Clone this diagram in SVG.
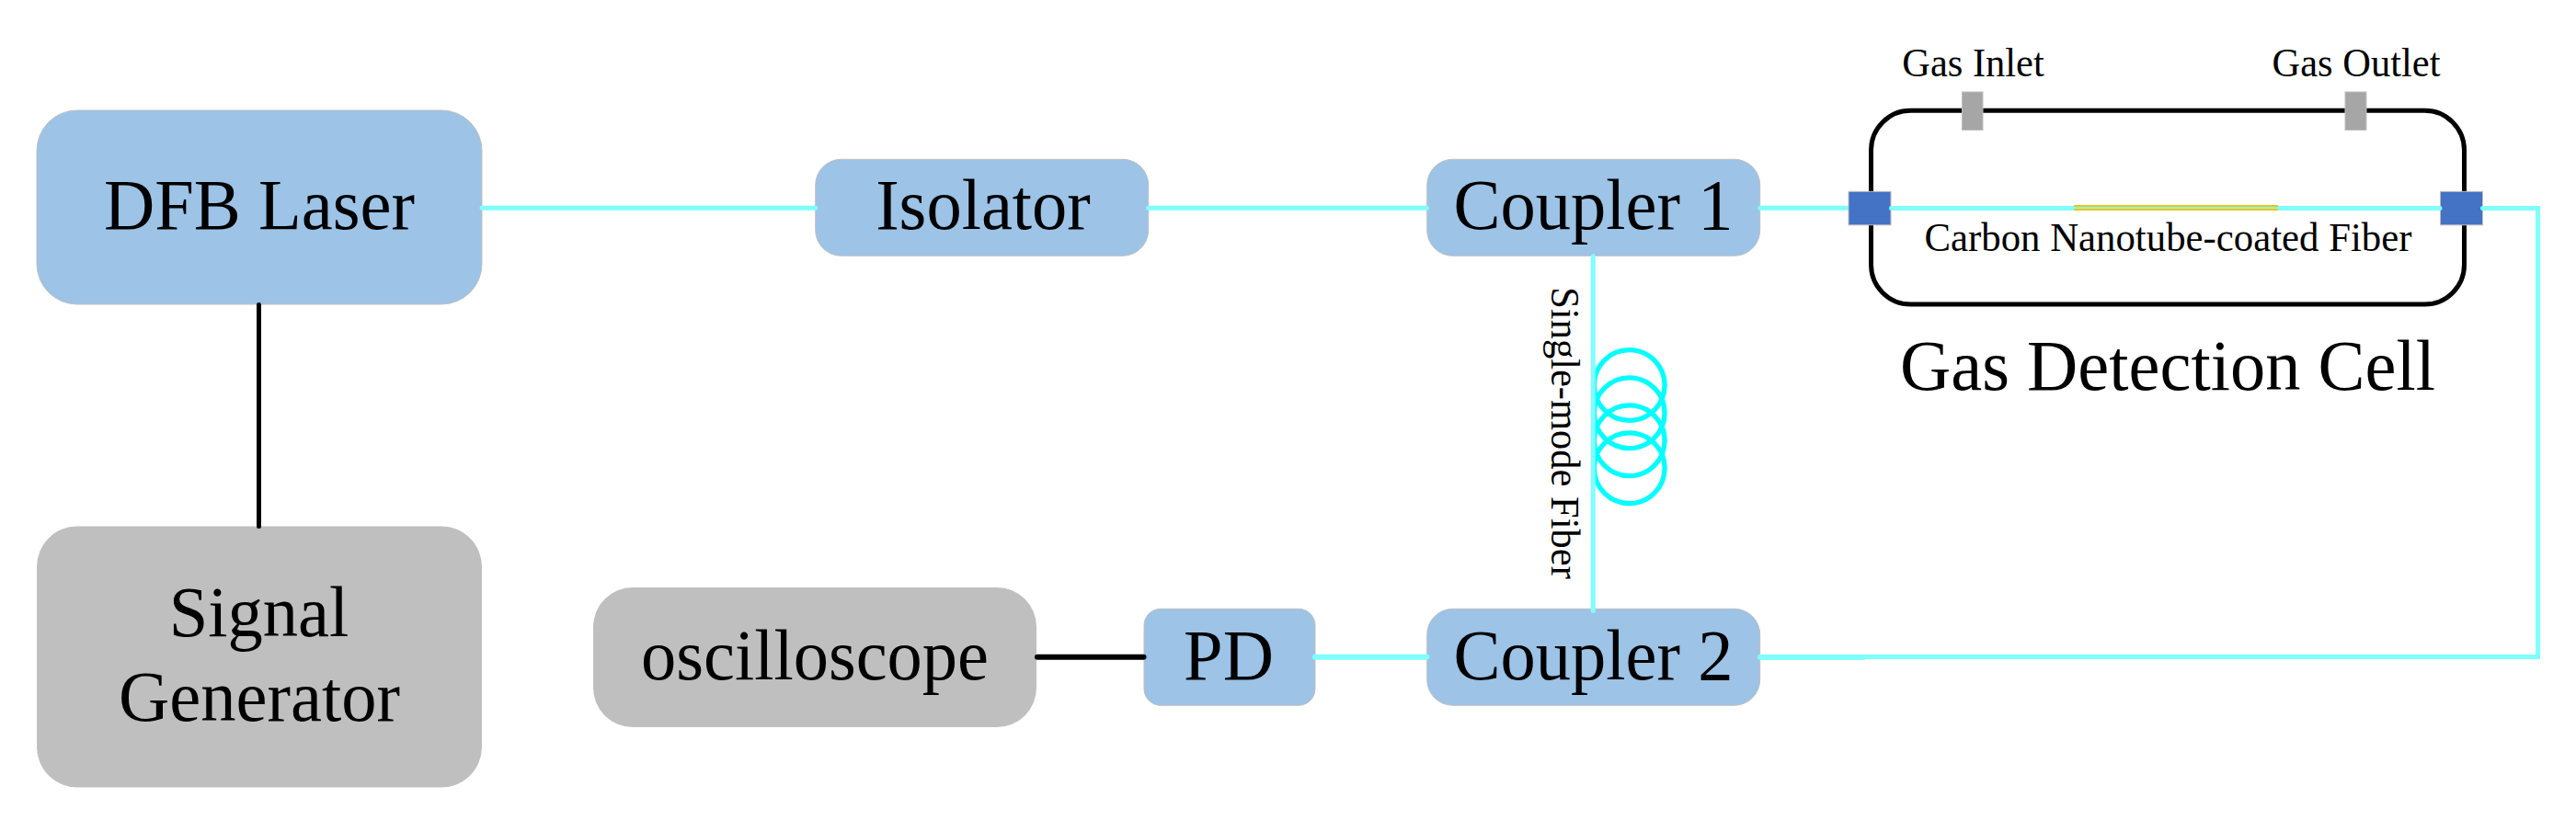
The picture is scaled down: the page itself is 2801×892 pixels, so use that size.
<svg xmlns="http://www.w3.org/2000/svg" width="2801" height="892" viewBox="0 0 2801 892">
<style>
text{font-family:"Liberation Serif","Times New Roman",serif;fill:#000;text-anchor:middle}
.big{font-size:79px}
.small{font-size:44px}
.blue{fill:#9DC3E6;stroke:#BFBFBF;stroke-width:1}
.grey{fill:#BFBFBF}
.port{fill:#A6A6A6;stroke:#BFBFBF;stroke-width:1}
.conn{fill:#4472C4;stroke:#BFBFBF;stroke-width:1}
.fiber{fill:none;stroke:#80FFFF;stroke-width:5;stroke-linecap:round;stroke-linejoin:miter}
.fiber6{stroke-width:6}
.wire{fill:none;stroke:#000;stroke-linecap:round}
.coil{fill:none;stroke:#00FFFF;stroke-width:5.3}
.coat{stroke:#FFC000;stroke-width:2}
</style>
<rect width="2801" height="892" fill="#FFFFFF"/>
<g id="dfb-laser"><rect class="blue" x="40" y="120" width="484" height="211" rx="44" ry="44"/><text class="big" x="282" y="249" textLength="338" lengthAdjust="spacingAndGlyphs">DFB Laser</text></g>
<g id="signal-generator"><rect class="grey" x="40" y="572.5" width="484" height="284" rx="44" ry="44"/><text class="big" x="281.5" y="692" textLength="195.5" lengthAdjust="spacingAndGlyphs">Signal</text><text class="big" x="282" y="784" textLength="306" lengthAdjust="spacingAndGlyphs">Generator</text></g>
<g id="isolator"><rect class="blue" x="886.7" y="173.3" width="362" height="105" rx="28" ry="28"/><text class="big" x="1069" y="249" textLength="233.7" lengthAdjust="spacingAndGlyphs">Isolator</text></g>
<g id="coupler-1"><rect class="blue" x="1551.7" y="173.3" width="362" height="105" rx="28" ry="28"/><text class="big" x="1732.5" y="249" textLength="303.9" lengthAdjust="spacingAndGlyphs">Coupler 1</text></g>
<g id="coupler-2"><rect class="blue" x="1551.7" y="662.3" width="362" height="105" rx="28" ry="28"/><text class="big" x="1732.5" y="739" textLength="303.9" lengthAdjust="spacingAndGlyphs">Coupler 2</text></g>
<g id="pd"><rect class="blue" x="1244" y="662.3" width="186" height="105" rx="18" ry="18"/><text class="big" x="1336" y="739" textLength="97.8" lengthAdjust="spacingAndGlyphs">PD</text></g>
<g id="oscilloscope"><rect class="grey" x="645" y="639" width="482" height="152" rx="43" ry="43"/><text class="big" x="886" y="739" textLength="378" lengthAdjust="spacingAndGlyphs">oscilloscope</text></g>
<g id="gas-cell"><rect x="2034.5" y="120.3" width="645" height="210.7" rx="43" ry="43" fill="none" stroke="#000" stroke-width="5"/>
<rect class="port" x="2133.5" y="100" width="22.5" height="41.5"/><rect class="port" x="2550" y="100" width="23" height="41.5"/>
<text class="small" x="2145.5" y="82.5" textLength="154.6" lengthAdjust="spacingAndGlyphs">Gas Inlet</text><text class="small" x="2562" y="82.5" textLength="183" lengthAdjust="spacingAndGlyphs">Gas Outlet</text>
<text class="small" x="2357.5" y="273" textLength="530" lengthAdjust="spacingAndGlyphs">Carbon Nanotube-coated Fiber</text>
<text x="2357" y="424" font-size="79" textLength="582" lengthAdjust="spacingAndGlyphs">Gas Detection Cell</text></g>
<g id="single-mode-fiber"><circle class="coil" cx="1771.7" cy="419" r="38.4"/><circle class="coil" cx="1771.7" cy="449.3" r="38.4"/><circle class="coil" cx="1771.7" cy="479.3" r="38.4"/><circle class="coil" cx="1771.7" cy="509.3" r="38.4"/>
<text x="0" y="0" font-size="45" textLength="317.6" lengthAdjust="spacingAndGlyphs" transform="translate(1686.7 471) rotate(90)">Single-mode Fiber</text></g>
<g id="connectors">
<path class="wire" stroke-width="5" d="M281.5 331.5V572.5"/>
<path class="wire" stroke-width="6" d="M1128 714.7H1243.5"/>
<path class="fiber" d="M524 226.3H886.8M1248.5 226.3H1551.5M1913.5 226.3H2012M1732.3 278.5V664.5M1913.5 714.5H2759.5V226.5H2697"/>
<path class="fiber fiber6" d="M1430 714.7H1551.5M1914 715H2026"/>
<rect class="conn" x="2010" y="208.3" width="46" height="36.5"/><rect class="conn" x="2653.5" y="208.3" width="46" height="36.5"/>
<path class="fiber" d="M2056.5 226.5H2653M2699.5 226.5H2720"/>
<path class="coat" d="M2255 224H2477M2255 228H2477"/>
</g>
</svg>
